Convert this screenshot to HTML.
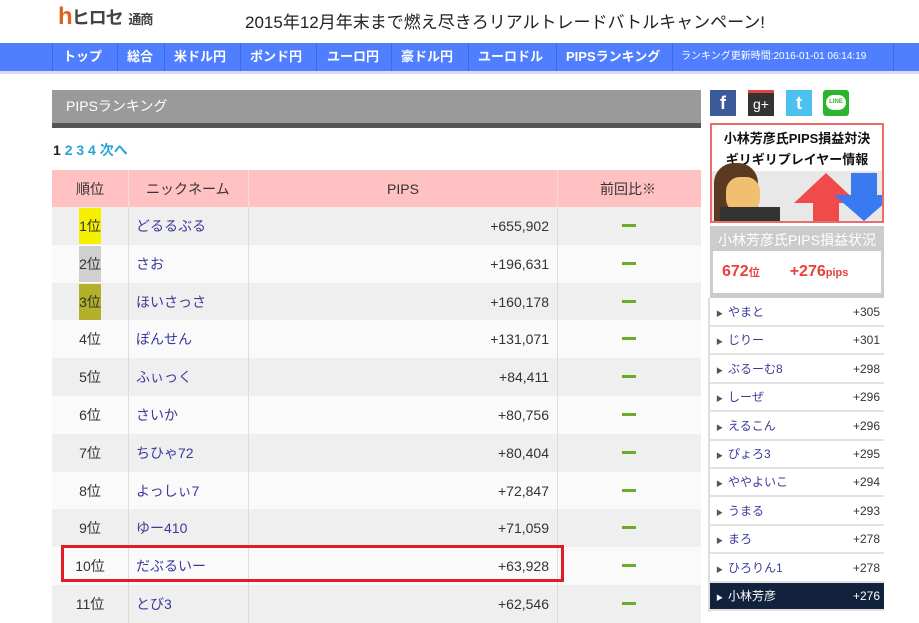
<!DOCTYPE html>
<html><head><meta charset="utf-8"><style>
*{margin:0;padding:0;box-sizing:border-box}
body{width:919px;height:612px;overflow:hidden;background:#fff;font-family:"Liberation Sans","Noto Sans CJK JP",sans-serif;position:relative;color:#333}
.a{position:absolute}
.nav{left:0;top:43px;width:919px;height:31px;background:#4f7ffe;border-bottom:3px solid #d6dcef}
.nav span{position:absolute;top:0;height:28px;line-height:28px;color:#fff;font-size:13px;font-weight:bold;border-left:1px solid #3d6ae6}
.row{position:absolute;left:52px;width:649px;height:38px;font-size:14px}
.row div{position:absolute;top:0;height:38px;line-height:38px}
.c1{left:0;width:76px;text-align:center}
.c2{left:84px;color:#3a3a9a}
.c3{left:196px;width:301px;text-align:right}
.dash{left:570px;top:17px!important;width:14px;height:3px!important;background:#6cab2a}
.vl{position:absolute;top:0;width:1px;height:38px;background:#ddd}
.li{position:absolute;left:710px;width:174px;height:28px;background:#fff;border-bottom:2px solid #e2e2e2;font-size:12px;line-height:27px;color:#3a3a9a}
.li b{font-weight:normal;position:absolute;right:4px;top:0;color:#333}
.li i{font-style:normal;font-size:7px;color:#555;margin:0 5px 0 6px}
</style></head><body>
<div class="a" style="left:58px;top:3px;font-size:24px;font-weight:bold;color:#e0621f;letter-spacing:-1px">h<span style="font-size:18px;color:#444">ヒロセ</span> <span style="font-size:13px;color:#444">通商</span></div>
<div class="a" style="left:245px;top:8px;font-size:17px;color:#222">2015年12月年末まで燃え尽きろリアルトレードバトルキャンペーン!</div>
<div class="a nav">
<span style="left:52px;padding-left:10px">トップ</span>
<span style="left:117px;padding-left:9px">総合</span>
<span style="left:164px;padding-left:9px">米ドル円</span>
<span style="left:240px;padding-left:9px">ポンド円</span>
<span style="left:316px;padding-left:10px">ユーロ円</span>
<span style="left:391px;padding-left:9px">豪ドル円</span>
<span style="left:468px;padding-left:9px">ユーロドル</span>
<span style="left:556px;padding-left:9px">PIPSランキング</span>
<span style="left:672px;padding-left:8px;font-size:10px;font-weight:normal">ランキング更新時間:2016-01-01 06:14:19</span>
<span style="left:893px"></span>
</div>
<div class="a" style="left:52px;top:90px;width:649px;height:38px;background:#9a9a9a;border-bottom:5px solid #555;color:#fff;font-size:14px;line-height:33px;padding-left:14px">PIPSランキング</div>
<div class="a" style="left:53px;top:140px;font-size:14px;font-weight:bold;color:#222">1 <span style="color:#29a3d8">2 3 4 次へ</span></div>
<div class="row" style="top:170px;height:37px;background:#ffc1c1">
<div class="c1">順位</div><div style="left:94px">ニックネーム</div><div style="left:335px">PIPS</div><div style="left:548px">前回比※</div>
<span class="vl" style="left:76px;background:#f0dede"></span><span class="vl" style="left:196px;background:#f0dede"></span><span class="vl" style="left:505px;background:#f0dede"></span>
</div>
<div id="rows"></div>
<div class="a" style="left:61px;top:545px;width:503px;height:37px;border:3px solid #e01c24;z-index:5"></div>

<div class="a" style="left:710px;top:90px;width:26px;height:26px;background:#3b5a9a;color:#fff;font-weight:bold;font-size:18px;text-align:center;line-height:26px">f</div>
<div class="a" style="left:748px;top:90px;width:26px;height:26px;background:#333;border-top:3px solid #d44;color:#fff;font-size:14px;text-align:center;line-height:22px">g+</div>
<div class="a" style="left:786px;top:90px;width:26px;height:26px;background:#4cc0ee;color:#fff;font-weight:bold;font-size:18px;text-align:center;line-height:26px">t</div>
<div class="a" style="left:823px;top:90px;width:26px;height:26px;background:#2cb52c;border-radius:3px"><div style="margin:5px 3px;height:15px;background:#fff;border-radius:8px;color:#2cb52c;font-size:6px;font-weight:bold;text-align:center;line-height:15px">LINE</div></div>
<div class="a" style="left:710px;top:123px;width:174px;height:100px;border:2px solid #f06a6a;background:#e8e8e8;overflow:hidden">
<div style="background:#fff;height:46px;text-align:center;font-weight:bold;font-size:13px;line-height:21px;padding-top:3px;color:#111">小林芳彦氏PIPS損益対決<br>ギリギリプレイヤー情報</div>
<div class="a" style="left:2px;top:38px;width:44px;height:62px;background:#5a3a20;border-radius:20px 20px 0 0"></div>
<div class="a" style="left:14px;top:52px;width:34px;height:36px;background:#f0c070;border-radius:40%"></div>
<div class="a" style="left:8px;top:82px;width:60px;height:20px;background:#333"></div>
<div class="a" style="left:82px;top:48px;width:0;height:0;border-left:32px solid transparent;border-right:32px solid transparent;border-bottom:30px solid #f04a4a"></div>
<div class="a" style="left:101px;top:76px;width:26px;height:24px;background:#f04a4a"></div>
<div class="a" style="left:139px;top:48px;width:26px;height:22px;background:#3a7af0"></div>
<div class="a" style="left:122px;top:70px;width:0;height:0;border-left:30px solid transparent;border-right:30px solid transparent;border-top:26px solid #3a7af0"></div>
</div>
<div class="a" style="left:710px;top:226px;width:174px;height:72px;background:#ccc;padding:3px">
<div style="color:#fff;font-size:14px;line-height:22px;text-align:center">小林芳彦氏PIPS損益状況</div>
<div style="background:#fff;height:42px;font-weight:bold;color:#e8403c;font-size:16px;line-height:42px;padding-left:9px">672<span style="font-size:11px">位</span><span style="margin-left:30px">+276<span style="font-size:11px">pips</span></span></div>
</div>
<div class="a" style="left:708px;top:298px;width:2px;height:314px;background:#ddd"></div>
<div id="list"></div>
<script>
var d=[["1位","どるるぶる","+655,902"],["2位","さお","+196,631"],["3位","ほいさっさ","+160,178"],["4位","ぽんせん","+131,071"],["5位","ふぃっく","+84,411"],["6位","さいか","+80,756"],["7位","ちひゃ72","+80,404"],["8位","よっしぃ7","+72,847"],["9位","ゆー410","+71,059"],["10位","だぶるいー","+63,928"],["11位","とび3","+62,546"]];
var bg=["#f5f000","#d0d0d0","#b3b02a"];var h="";
d.forEach(function(r,i){var t=207+i*37.8;
var c1=i<3?'<span style="display:inline-block;width:22px;height:36px;margin-top:1px;line-height:36px;background:'+bg[i]+'">'+r[0]+'</span>':r[0];
h+='<div class="row" style="top:'+t+'px;background:'+(i%2?'#fafafa':'#efefef')+'"><div class="c1">'+c1+'</div><div class="c2">'+r[1]+'</div><div class="c3">'+r[2]+'</div><div class="dash"></div><span class="vl" style="left:76px"></span><span class="vl" style="left:196px"></span><span class="vl" style="left:505px"></span></div>';});
document.getElementById("rows").innerHTML=h;
var l=[["やまと","+305"],["じりー","+301"],["ぶるーむ8","+298"],["しーぜ","+296"],["えるこん","+296"],["ぴょろ3","+295"],["ややよいこ","+294"],["うまる","+293"],["まろ","+278"],["ひろりん1","+278"],["小林芳彦","+276"]];
h="";l.forEach(function(r,i){var t=299+i*28.4;var last=i==10;
h+='<div class="li" style="top:'+t+'px;'+(last?'background:#12223c;color:#fff;':'')+'"><i'+(last?' style="color:#fff"':'')+'>▶</i>'+r[0]+'<b'+(last?' style="color:#fff"':'')+'>'+r[1]+'</b></div>';});
document.getElementById("list").innerHTML=h;
</script>
</body></html>
